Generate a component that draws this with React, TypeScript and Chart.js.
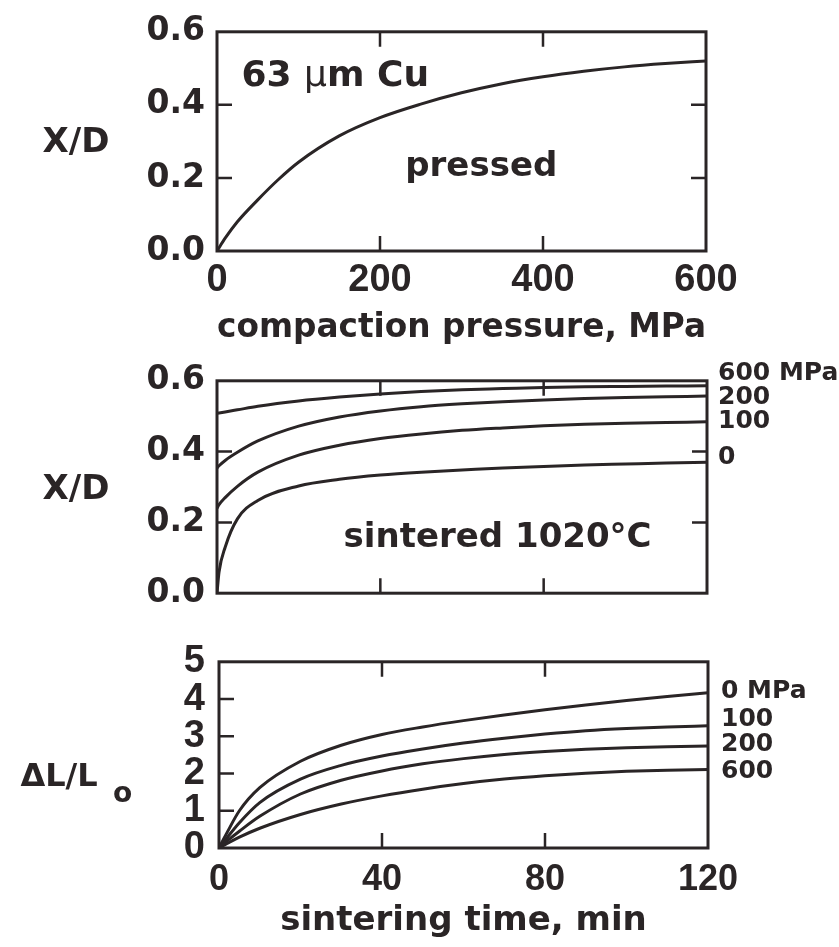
import React, { useEffect, useRef } from 'react';
import { Chart, registerables } from 'chart.js';

Chart.register(...registerables);

const INK = '#2a2526';
const SANS = 'DejaVu Sans';
const HELV = 'Liberation Sans';

// ---------- Panel 1: pressed ----------
const pressure = [0, 10, 25, 50, 75, 100, 150, 200, 250, 300, 350, 400, 450, 500, 550, 600];
const pressedXD = [0, 0.035, 0.08, 0.14, 0.195, 0.243, 0.315, 0.365, 0.402, 0.433, 0.458, 0.477, 0.492, 0.504, 0.513, 0.52];
const pressureTicks = [0, 200, 400, 600];
const xdTicks = [0, 0.2, 0.4, 0.6];

// ---------- Panel 2 & 3: sintering time ----------
const sinterTime = [0, 0.5, 2, 5, 10, 20, 30, 40, 50, 60, 70, 80, 90, 100, 110, 120];
const timeTicks = [0, 40, 80, 120];

const xd0 = [0, 0.06, 0.13, 0.21, 0.262, 0.303, 0.322, 0.334, 0.342, 0.348, 0.354, 0.358, 0.362, 0.365, 0.368, 0.37];
const xd100 = [0.24, 0.25, 0.27, 0.302, 0.342, 0.39, 0.418, 0.437, 0.45, 0.46, 0.467, 0.473, 0.477, 0.48, 0.482, 0.484];
const xd200 = [0.354, 0.36, 0.375, 0.398, 0.43, 0.472, 0.498, 0.515, 0.527, 0.535, 0.541, 0.546, 0.55, 0.553, 0.555, 0.557];
const xd600 = [0.508, 0.509, 0.512, 0.518, 0.528, 0.543, 0.554, 0.563, 0.57, 0.575, 0.578, 0.581, 0.583, 0.584, 0.585, 0.586];
const sinterLabels = ['600 MPa', '200', '100', '0'];
const sinterLabelY = [0.62, 0.554, 0.484, 0.382];

const dl0 = [0, 0.11, 0.42, 1.0, 1.62, 2.33, 2.76, 3.05, 3.25, 3.42, 3.57, 3.71, 3.84, 3.96, 4.07, 4.17];
const dl100 = [0, 0.07, 0.28, 0.68, 1.22, 1.85, 2.22, 2.47, 2.66, 2.82, 2.95, 3.06, 3.15, 3.21, 3.25, 3.28];
const dl200 = [0, 0.05, 0.19, 0.45, 0.85, 1.45, 1.82, 2.07, 2.26, 2.4, 2.51, 2.59, 2.65, 2.69, 2.72, 2.74];
const dl600 = [0, 0.03, 0.12, 0.29, 0.53, 0.9, 1.18, 1.4, 1.58, 1.73, 1.85, 1.94, 2.01, 2.06, 2.09, 2.11];
const shrinkTicks = [0, 1, 2, 3, 4, 5];
const shrinkLabels = ['0 MPa', '100', '200', '600'];
const shrinkLabelY = [4.2, 3.46, 2.77, 2.06];

// ---------- helpers ----------
const pts = (xs: number[], ys: number[]) => xs.map((x, i) => ({ x, y: ys[i] }));

const lineDs = (xs: number[], ys: number[]) => ({
  data: pts(xs, ys),
  borderColor: INK,
  borderWidth: 3,
  pointRadius: 0,
  fill: false,
  cubicInterpolationMode: 'monotone' as const,
});

function makeFrame(rightTicks: boolean) {
  return {
    id: 'frame',
    afterDatasetsDraw(chart: any) {
      const { ctx, chartArea: a, scales } = chart;
      const xs = scales.x;
      const ys = scales.y;
      const len = 15;
      const eps = 1e-9;
      ctx.save();
      ctx.strokeStyle = INK;
      ctx.lineWidth = 3;
      ctx.strokeRect(a.left, a.top, a.right - a.left, a.bottom - a.top);
      ctx.lineWidth = 2.5;
      ctx.beginPath();
      xs.ticks.forEach((t: any) => {
        if (t.value <= xs.min + eps || t.value >= xs.max - eps) return;
        const p = xs.getPixelForValue(t.value);
        ctx.moveTo(p, a.bottom);
        ctx.lineTo(p, a.bottom - len);
        ctx.moveTo(p, a.top);
        ctx.lineTo(p, a.top + len);
      });
      ys.ticks.forEach((t: any) => {
        if (t.value <= ys.min + eps || t.value >= ys.max - eps) return;
        const p = ys.getPixelForValue(t.value);
        ctx.moveTo(a.left, p);
        ctx.lineTo(a.left + len, p);
        if (rightTicks) {
          ctx.moveTo(a.right, p);
          ctx.lineTo(a.right - len, p);
        }
      });
      ctx.stroke();
      ctx.restore();
    },
  };
}

type Part = { text: string; font: string };
type Note = {
  parts: Part[];
  xv?: number;
  yv?: number;
  dx?: number;
  fromRight?: boolean;
  dy?: number;
  align?: 'left' | 'center';
  baseline?: CanvasTextBaseline;
};

function makeNotes(notes: Note[]) {
  return {
    id: 'notes',
    afterDraw(chart: any) {
      const { ctx, chartArea: a, scales } = chart;
      notes.forEach((n) => {
        ctx.save();
        ctx.fillStyle = INK;
        ctx.textBaseline = n.baseline || 'alphabetic';
        ctx.textAlign = 'left';
        let x = n.xv !== undefined ? scales.x.getPixelForValue(n.xv) : (n.fromRight ? a.right : a.left) + (n.dx || 0);
        const y = n.yv !== undefined ? scales.y.getPixelForValue(n.yv) : (a.top + a.bottom) / 2 + (n.dy || 0);
        let total = 0;
        n.parts.forEach((p) => {
          ctx.font = p.font;
          total += ctx.measureText(p.text).width;
        });
        if (n.align === 'center') x -= total / 2;
        n.parts.forEach((p) => {
          ctx.font = p.font;
          ctx.fillText(p.text, x, y);
          x += ctx.measureText(p.text).width;
        });
        ctx.restore();
      });
    },
  };
}

const bold = (size: number, fam = SANS) => `bold ${size}px "${fam}"`;
const normal = (size: number, fam = SANS) => `normal ${size}px "${fam}"`;

function yScale(min: number, max: number, ticks: number[], width: number, fmt: (v: number) => string, font: any, padding: number) {
  return {
    type: 'linear' as const,
    min,
    max,
    afterBuildTicks: (s: any) => {
      s.ticks = ticks.map((v) => ({ value: v }));
    },
    ticks: { callback: (v: any) => fmt(Number(v)), font, color: INK, padding, autoSkip: false },
    grid: { display: false, drawTicks: false },
    border: { display: false },
    afterFit: (s: any) => {
      s.width = width;
    },
  };
}

function xScale(min: number, max: number, ticks: number[], height: number, showLabels: boolean, font: any, padding: number, title?: any) {
  return {
    type: 'linear' as const,
    min,
    max,
    afterBuildTicks: (s: any) => {
      s.ticks = ticks.map((v) => ({ value: v }));
    },
    ticks: { display: showLabels, font, color: INK, padding, maxRotation: 0, autoSkip: false, callback: (v: any) => String(v) },
    grid: { display: false, drawTicks: false },
    border: { display: false },
    title: title || { display: false },
    afterFit: (s: any) => {
      s.height = height;
    },
  };
}

function baseOptions(padding: any, scales: any) {
  return {
    responsive: false,
    animation: false as const,
    layout: { padding },
    plugins: { legend: { display: false }, tooltip: { enabled: false } },
    scales,
  };
}

// ---------- chart configs ----------
function pressedConfig(): any {
  return {
    type: 'line',
    data: { datasets: [lineDs(pressure, pressedXD)] },
    options: baseOptions(
      { left: 0, right: 133, top: 21, bottom: 0 },
      {
        x: xScale(0, 600, pressureTicks, 98, true, { family: HELV, weight: 'bold', size: 38 }, 7, {
          display: true,
          text: 'compaction pressure, MPa',
          color: INK,
          font: { family: SANS, weight: 'bold', size: 34 },
          padding: { top: 0, bottom: 0 },
        }),
        y: yScale(0, 0.6, xdTicks, 217, (v) => v.toFixed(1), { family: SANS, weight: 'bold', size: 33 }, 12),
      }
    ),
    plugins: [
      makeFrame(true),
      makeNotes([
        { parts: [{ text: 'X/D', font: bold(34) }], dx: -141, dy: 2, align: 'center', baseline: 'middle' },
        {
          parts: [
            { text: '63 ', font: bold(36) },
            { text: 'µ', font: normal(36) },
            { text: 'm Cu', font: bold(36) },
          ],
          xv: 30,
          yv: 0.452,
        },
        { parts: [{ text: 'pressed', font: bold(34) }], xv: 231, yv: 0.206 },
      ]),
    ],
  };
}

function sinterConfig(): any {
  const notes: Note[] = [
    { parts: [{ text: 'X/D', font: bold(34) }], dx: -141, dy: 3, align: 'center', baseline: 'middle' },
    { parts: [{ text: 'sintered 1020°C', font: bold(34) }], xv: 31, yv: 0.13 },
  ];
  sinterLabels.forEach((t, i) => {
    notes.push({ parts: [{ text: t, font: bold(25) }], fromRight: true, dx: 11, yv: sinterLabelY[i], baseline: 'middle' });
  });
  return {
    type: 'line',
    data: {
      datasets: [lineDs(sinterTime, xd0), lineDs(sinterTime, xd100), lineDs(sinterTime, xd200), lineDs(sinterTime, xd600)],
    },
    options: baseOptions(
      { left: 0, right: 132, top: 22, bottom: 0 },
      {
        x: xScale(0, 120, timeTicks, 17, false, { family: HELV, weight: 'bold', size: 36 }, 0),
        y: yScale(0, 0.6, xdTicks, 217, (v) => v.toFixed(1), { family: SANS, weight: 'bold', size: 33 }, 12),
      }
    ),
    plugins: [makeFrame(true), makeNotes(notes)],
  };
}

function shrinkConfig(): any {
  const notes: Note[] = [
    { parts: [{ text: 'ΔL/L', font: bold(32) }], dx: -160, dy: 23, align: 'center', baseline: 'middle' },
    { parts: [{ text: 'o', font: bold(28) }], dx: -106, dy: 40, baseline: 'middle' },
  ];
  shrinkLabels.forEach((t, i) => {
    notes.push({ parts: [{ text: t, font: bold(25) }], fromRight: true, dx: 13, yv: shrinkLabelY[i], baseline: 'middle' });
  });
  return {
    type: 'line',
    data: {
      datasets: [lineDs(sinterTime, dl0), lineDs(sinterTime, dl100), lineDs(sinterTime, dl200), lineDs(sinterTime, dl600)],
    },
    options: baseOptions(
      { left: 0, right: 131, top: 27, bottom: 0 },
      {
        x: xScale(0, 120, timeTicks, 99, true, { family: HELV, weight: 'bold', size: 36 }, 10, {
          display: true,
          text: 'sintering time, min',
          color: INK,
          font: { family: SANS, weight: 'bold', size: 34 },
          padding: { top: 0, bottom: 5 },
        }),
        y: yScale(0, 5, shrinkTicks, 219, (v) => String(v), { family: HELV, weight: 'bold', size: 38 }, 14),
      }
    ),
    plugins: [makeFrame(false), makeNotes(notes)],
  };
}

function Panel({ top, height, build }: { top: number; height: number; build: () => any }) {
  const ref = useRef<HTMLCanvasElement>(null);
  useEffect(() => {
    const chart = new Chart(ref.current as HTMLCanvasElement, build());
    return () => chart.destroy();
  }, []);
  return (
    <canvas
      ref={ref}
      width={839}
      height={height}
      style={{ position: 'absolute', left: 0, top, width: 839, height, display: 'block' }}
    />
  );
}

export default function App() {
  return (
    <div style={{ position: 'absolute', left: 0, top: 0, width: 839, height: 947, background: '#fff', overflow: 'hidden' }}>
      <Panel top={0} height={349} build={pressedConfig} />
      <Panel top={349} height={276} build={sinterConfig} />
      <Panel top={625} height={322} build={shrinkConfig} />
    </div>
  );
}
